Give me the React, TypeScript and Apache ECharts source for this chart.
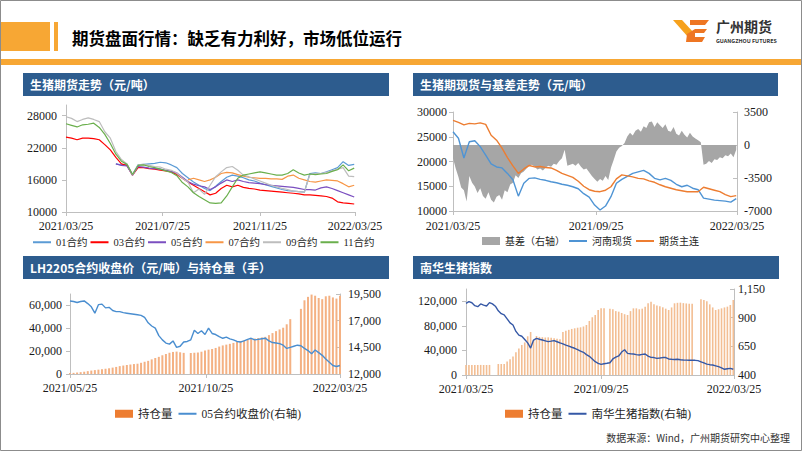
import React, { useEffect, useRef } from 'react';
import * as echarts from 'echarts';

// ---------------- Chart 1: 生猪期货走势 ----------------
const c1Start = '2021/03/25';
const c1Ticks = ['2021/03/25', '2021/07/25', '2021/11/25', '2022/03/25'];
const c1YTicks = [10000, 16000, 22000, 28000];
const c1Step = 7;
const c1Names = ['01合约', '03合约', '05合约', '07合约', '09合约', '11合约'];
const s01 = [null, null, null, null, null, null, null, null, null,
  19000, 18800, 18900, 17000, 18800, 18900, 19000, 19100, 19300, 19200, 18800, 18300, 17200, 16400, 15600, 15000, 14400, 14000, 14800, 15700, 16500, 16900, 16700, 16400, 16000, 15800, 15400, 15100, 14800, 14500, 14200, 14000, 13900, 13800, 13700, 17200, 17300, 17200, 17500, 17900, 18300, 19400, 18700, 18900];
const s03 = [24000, 23800, 23500, 23800, 23800, 23700, 23500, 22600, 21600, 20200, 19000, 18700, 16900, 18300, 18300, 18100, 18000, 17800, 17700, 17500, 17000, 16300, 15600, 15000, 14400, 13800, 13200, 13500, 14400, 15000, 14700, 15000, 14600, 14400, 14300, 14100, 14000, 13900, 13800, 13700, 13600, 13500, 13400, 13200, 13200, 13100, 13000, 12900, 12600, 11900, 11700, 11600, 11500];
const s05 = [null, null, null, null, null, null, null, null, null,
  19000, 18700, 18600, 16900, 18500, 18400, 18200, 18100, 18000, 17800, 17600, 17300, 16500, 15700, 15200, 14900, 14700, 14200, 14700, 15400, 16000, 15700, 16000, 15700, 15500, 15400, 15300, 15100, 15000, 14900, 14800, 14700, 14600, 14400, 14200, 14200, 14100, 14500, 14700, 14400, 14000, 13600, 13200, 12800];
const s07 = [null, null, null, null, null, null, null, null, null, null, null, null, null, null, null, null, null, null, null, null, null, null,
  16000, 16300, 16000, 15700, 16000, 16500, 17200, 17400, 17300, 17000, 16700, 16500, 16400, 16300, 16300, 16200, 16200, 16100, 16700, 16900, 16300, 16000, 15700, 15600, 15800, 16000, 15900, 15800, 15300, 14700, 15000];
const s09 = [27800, 27500, 26900, 27300, 27600, 27300, 26900, 25000, 23800, 21300, 19800, 19000, 16900, 18800, 18900, 18700, 18500, 18400, 18000, 17800, 17300, 16300, 15600, 13600, 14300, 13300, 15000, 16600, 17500, 18300, 18500, 17800, 16900, 16600, 16200, 15800, 15400, 15000, 14700, 14400, 14200, 13900, 13800, 13700, 17000, 17200, 17200, 17400, 17700, 18000, 18300, 16700, 16600];
const s11 = [26500, 26200, 25900, 26300, 26400, 26600, 25800, 24500, 22800, 20800, 19500, 18900, 17000, 18700, 18800, 18500, 18300, 18000, 17700, 17400, 16800, 15500, 14700, 13600, 12900, 12300, 11700, 11600, 11700, 13000, 14700, 16300, 16900, 17100, 17300, 17500, 17300, 17100, 16900, 16900, 17200, 17900, 17300, 16900, 17100, 17000, 17100, 17200, 17600, 17900, 18800, 17700, 18200];
const c1Colors = ['#5B9BD5', '#FF0000', '#7B4FC0', '#F79646', '#BDBDBD', '#6AAF4C'];

// ---------------- Chart 2: 生猪期现货与基差走势 ----------------
const c2Start = '2021/03/25';
const c2Ticks = ['2021/03/25', '2021/09/25', '2022/03/25'];
const c2YLeft = [10000, 15000, 20000, 25000, 30000];
const c2YRight = [-7000, -3500, 0, 3500];
const c2Step = 7;
const c2BasisStep = 3.5;
const c2Names = ['基差（右轴）', '河南现货', '期货主连'];
const basis = [-1400, -2500, -3400, -4500, -4800, -6000, -3300, -4000, -4400, -5100,
  -4600, -5400, -5700, -5000, -5800, -6100, -5500, -5300, -5800, -4800,
  -5000, -4200, -4000, -3200, -3500, -3000, -2800, -2500, -2200, -2100,
  -2300, -2600, -2500, -2700, -2400, -2200, -2300, -2000, -2100, -1700,
  -1400, -500, -2200, -2100, -2000, -2200, -1900, -2300, -2600, -2500,
  -2900, -3300, -3600, -3900, -3600, -3800, -3300, -3700, -2400, -1600,
  -700, -300, -100, 200, 900, 1300, 1000, 1500, 1700, 1400,
  2000, 1800, 2400, 2500, 1900, 2400, 2100, 1800, 2200, 1500,
  1400, 1900, 1200, 1000, 1500, 1100, 800, 1300, 900, 700,
  500, 300, -2100, -2000, -1700, -1900, -1500, -1600, -1300, -1400,
  -1100, -1200, -900, -1300, -500];
const spot = [26000, 24700, 20700, 24000, 24200, 23000, 21300, 19500, 18900, 18700, 17600, 16300, 13000, 15600, 16600, 16700, 16400, 16200, 15900, 15700, 15400, 15200, 14900, 14500, 13500, 12800, 11200, 10200, 11000, 12900, 15600, 16400, 17000, 17600, 17900, 18200, 17600, 16600, 16300, 16600, 16200, 15400, 14900, 15200, 14600, 14300, 12600, 12400, 12200, 12100, 12000, 11800, 12500];
const futures = [28300, 27900, 27400, 27700, 27600, 27800, 27500, 25300, 24300, 22700, 20800, 19100, 17600, 18500, 19200, 18900, 19000, 18800, 18700, 18200, 17600, 17200, 16800, 16000, 15000, 14300, 14000, 13900, 14200, 14900, 16500, 17300, 17100, 16900, 16600, 16500, 16100, 15800, 15300, 14900, 14600, 14300, 14100, 13900, 13900, 13900, 14800, 14500, 14200, 13900, 13300, 12900, 13100];

// ---------------- Chart 3: LH2205 ----------------
const c3Start = '2021/05/25';
const c3Ticks = ['2021/05/25', '2021/10/25', '2022/03/25'];
const c3YLeft = [0, 20000, 40000, 60000];
const c3YRight = [12000, 14500, 17000, 19500];
const c3Step = 4;
const c3Names = ['持仓量', '05合约收盘价(右轴)'];
const oi3 = [800, 1000, 1300, 1600, 2000, 2500, 3000, 3400, 3800, 4200, 4600, 5000, 5600, 6200, 6900, 7400, 7900, 8300, 8700, 9000, 9800, 10700, 11500, 12800, 14000, 15000, 16400, 17500, 18600, 19300, 19600, 19000, 18500, null, 18400, 18600, 18800, 19500, 20500, 21300, 21900, 22800, 24000, 25000, 25700, 26400, 27200, 28000, 28600, 29500, 30100, 30600, 31000, 31500, 32000, 32500, 34000, 35800, 37500, 39000, 40500, 43500, 48000, null, null, 57000, 64500, 67500, 69500, 68500, 66500, 65500, 68000, 68500, 67000, 66000, 68500];
const price3 = [18850, 18800, 18700, 18800, 18850, 18600, 18300, 17700, 18500, 18550, 18200, 18250, 17950, 17850, 17850, 17750, 17700, 17650, 17600, 17550, 17500, 17300, 16800, 16500, 16300, 15600, 15200, 14900, 14800, 15100, 14500, 14600, 15000, 15050, 15200, 16100, 15800, 16050, 15700, 16300, 15800, 15700, 15500, 15350, 15450, 15300, 15200, 15050, 15000, 15100, 15250, 15350, 15200, 15250, 15300, 15350, 15100, 14950, 14900, 14850, 14700, 14400, 14500, 14600, 14700, 14650, 14400, 14200, 13900, 14250, 14000, 13750, 13400, 13100, 12800, 12700, 12800];

// ---------------- Chart 4: 南华生猪指数 ----------------
const c4Start = '2021/03/25';
const c4Ticks = ['2021/03/25', '2021/09/25', '2022/03/25'];
const c4YLeft = [0, 40000, 80000, 120000];
const c4YRight = [400, 650, 900, 1150];
const c4Step = 4;
const c4Names = ['持仓量', '南华生猪指数(右轴)'];
const oi4 = [16300, 16300, 16400, 16300, 16300, 16400, 16300, 16300, 16400, null, null, 17900, 17900, 18000, 22000, 25500, 30000, 37000, 43000, 49000, 53000, 63000, 70000, 57000, 63500, 62000, 61500, 61000, 61300, 60500, 59700, 59000, 58100, 70000, 72000, 73500, 75000, 76000, 77000, 77600, 79000, 81400, 88000, 94000, 97700, 105800, 108500, 108500, null, 108000, 107000, 104000, 103100, 101000, 99000, 97700, 104000, 108500, 108500, 107000, 108000, 111250, 117000, 119400, 115000, 113000, 112000, 110200, 108000, 105800, 110000, 116700, 117500, 117800, 117000, 116500, 116000, 116000, null, null, 123200, 122100, 120000, 115000, 110000, 105800, 107000, 108500, 110000, 111250, 114000, 122100];
const index4 = [1025, 1040, 1030, 1005, 996, 1020, 1010, 1002, 1031, 1020, 1000, 960, 935, 925, 890, 855, 836, 780, 748, 738, 710, 680, 635, 705, 720, 712, 705, 698, 691, 695, 700, 690, 680, 672, 660, 652, 642, 633, 622, 608, 598, 578, 563, 540, 516, 502, 493, 498, 502, 507, 540, 555, 566, 600, 620, 589, 585, 583, 578, 574, 580, 583, 565, 554, 552, 545, 548, 552, 552, 540, 537, 535, 537, 533, 531, 530, 528, 530, 528, 525, 515, 505, 495, 490, 487, 480, 473, 462, 450, 455, 458, 450];

// ---------------- Texts ----------------
const pageTitle = '期货盘面行情：缺乏有力利好，市场低位运行';
const panelTitles = ['生猪期货走势（元/吨）', '生猪期现货与基差走势（元/吨）', 'LH2205合约收盘价（元/吨）与持仓量（手）', '南华生猪指数'];
const footer = '数据来源：Wind，广州期货研究中心整理';
const logoCn = '广州期货';
const logoEn = 'GUANGZHOU FUTURES';

// ---------------- helpers ----------------
const AXIS = '#BFBFBF';
const NUM_FONT = '"Liberation Serif", "Times New Roman", serif';
const CJK = '"Noto Sans CJK SC", "Noto Sans", sans-serif';
const LEG_FONT = '"Liberation Serif", "Noto Sans CJK SC", serif';
const ORANGE = '#F7A734';
const HEAD_BLUE = '#2D5C8E';

const toTime = (s: string) => Date.parse(s.replace(/\//g, '-') + 'T00:00:00Z');
const dayOf = (s: string, start: string) => Math.round((toTime(s) - toTime(start)) / 86400000);
const pairs = (vals: (number | null)[], step: number) => vals.map((v, i) => [i * step, v == null ? '-' : v]);

function xAxisCfg(gridIndex: number, start: string, ticks: string[], margin: number) {
  const vals = ticks.map((t) => dayOf(t, start));
  return {
    type: 'value', gridIndex, min: 0, max: vals[vals.length - 1],
    splitLine: { show: false },
    axisLine: { show: true, onZero: false, lineStyle: { color: AXIS, width: 1 } },
    axisTick: { show: true, customValues: vals, length: 4, lineStyle: { color: AXIS } },
    axisLabel: {
      customValues: vals, margin, color: '#1a1a1a', fontSize: 12, fontFamily: NUM_FONT,
      formatter: (v: number) => { const k = vals.indexOf(Math.round(v)); return k >= 0 ? ticks[k] : ''; },
    },
  };
}

function yAxisCfg(gridIndex: number, min: number, max: number, ticks: number[], position: 'left' | 'right', margin: number, comma: boolean) {
  return {
    type: 'value', gridIndex, min, max, position,
    splitLine: { show: false },
    axisLine: { show: true, onZero: false, lineStyle: { color: AXIS, width: 1 } },
    axisTick: { show: true, customValues: ticks, length: 4, inside: position === 'right', lineStyle: { color: AXIS } },
    axisLabel: {
      customValues: ticks, margin, color: '#1a1a1a', fontSize: 12, fontFamily: NUM_FONT,
      formatter: (v: number) => (comma ? Number(v).toLocaleString('en-US') : String(v)),
    },
  };
}

function lineSeries(name: string, xi: number, yi: number, data: any[], color: string, width: number) {
  return {
    type: 'line', name, xAxisIndex: xi, yAxisIndex: yi, data, symbol: 'none', silent: true,
    lineStyle: { color, width }, itemStyle: { color },
  };
}

function headerBar(x: number, y: number, w: number, text: string) {
  return [
    { type: 'rect', shape: { x, y, width: w, height: 23 }, style: { fill: HEAD_BLUE }, silent: true },
    {
      type: 'text', x: x + 7, y: y + 11.5, silent: true,
      style: { text, fill: '#ffffff', font: `bold 12px ${CJK}`, textAlign: 'left', textVerticalAlign: 'middle', align: 'left', verticalAlign: 'middle' },
    },
  ];
}

function buildOption() {
  const c1Data = [s01, s03, s05, s07, s09, s11];
  const series: any[] = [];
  c1Names.forEach((n, k) => series.push(lineSeries(n, 0, 0, pairs(c1Data[k], c1Step), c1Colors[k], 1.2)));

  series.push({
    type: 'line', name: c2Names[0], xAxisIndex: 1, yAxisIndex: 2, data: pairs(basis, c2BasisStep), symbol: 'none', silent: true,
    lineStyle: { width: 0, color: '#A6A6A6' }, itemStyle: { color: '#A6A6A6' },
    areaStyle: { color: '#A6A6A6', opacity: 1, origin: 'auto' },
  });
  series.push(lineSeries(c2Names[1], 1, 1, pairs(spot, c2Step), '#4F94D4', 1.4));
  series.push(lineSeries(c2Names[2], 1, 1, pairs(futures, c2Step), '#ED7D31', 1.4));

  series.push({
    type: 'bar', name: c3Names[0], xAxisIndex: 2, yAxisIndex: 3, data: pairs(oi3, c3Step), barWidth: 2, silent: true,
    itemStyle: { color: '#F4B183' },
  });
  series.push(lineSeries(c3Names[1], 2, 4, pairs(price3, c3Step), '#4A8ED0', 1.4));

  series.push({
    type: 'bar', name: c4Names[0], xAxisIndex: 3, yAxisIndex: 5, data: pairs(oi4, c4Step), barWidth: 1.6, silent: true,
    itemStyle: { color: '#F3BE93' },
  });
  series.push(lineSeries(c4Names[1], 3, 6, pairs(index4, c4Step), '#3558A6', 1.4));

  const legendBase = {
    selectedMode: false, orient: 'horizontal', itemWidth: 18, itemHeight: 8, padding: 0,
    itemStyle: { opacity: 0 }, lineStyle: { opacity: 1 },
  };

  const graphic: any[] = [
    { type: 'rect', shape: { x: 0, y: 22, width: 50, height: 29 }, style: { fill: ORANGE }, silent: true },
    { type: 'rect', shape: { x: 54, y: 22, width: 4, height: 29 }, style: { fill: ORANGE }, silent: true },
    { type: 'rect', shape: { x: 0, y: 59, width: 802, height: 6 }, style: { fill: ORANGE }, silent: true },
    {
      type: 'text', x: 72, y: 38, silent: true,
      style: { text: pageTitle, fill: '#000000', font: `bold 16.5px ${CJK}`, textAlign: 'left', textVerticalAlign: 'middle', align: 'left', verticalAlign: 'middle' },
    },
    { type: 'polygon', shape: { points: [[673, 20], [682, 20], [694, 33], [688, 37]] }, style: { fill: '#F6A11C' }, silent: true },
    { type: 'polygon', shape: { points: [[687, 34], [695, 29], [695, 42], [686, 42]] }, style: { fill: '#EE7623' }, silent: true },
    { type: 'polygon', shape: { points: [[690, 20], [709, 20], [705, 25], [690, 25]] }, style: { fill: '#EE7623' }, silent: true },
    { type: 'polygon', shape: { points: [[695, 29], [707, 29], [704, 33], [695, 33]] }, style: { fill: '#EE7623' }, silent: true },
    { type: 'polygon', shape: { points: [[695, 37], [705, 37], [702, 42], [695, 42]] }, style: { fill: '#EE7623' }, silent: true },
    {
      type: 'text', x: 716, y: 26, silent: true,
      style: { text: logoCn, fill: '#333333', font: `bold 14px ${CJK}`, textAlign: 'left', textVerticalAlign: 'middle', align: 'left', verticalAlign: 'middle' },
    },
    {
      type: 'text', x: 716, y: 41, silent: true,
      style: { text: logoEn, fill: '#333333', font: `bold 5.4px ${CJK}`, textAlign: 'left', textVerticalAlign: 'middle', align: 'left', verticalAlign: 'middle' },
    },
    ...headerBar(23, 73, 366, panelTitles[0]),
    ...headerBar(413, 73, 365, panelTitles[1]),
    ...headerBar(23, 256, 366, panelTitles[2]),
    ...headerBar(413, 256, 366, panelTitles[3]),
    {
      type: 'text', x: 790, y: 437, silent: true,
      style: { text: footer, fill: '#333333', font: `10px ${CJK}`, textAlign: 'right', textVerticalAlign: 'middle', align: 'right', verticalAlign: 'middle' },
    },
    { type: 'rect', shape: { x: 0.5, y: 0.5, width: 801, height: 450 }, style: { fill: 'none', stroke: '#8C8C8C', lineWidth: 1 }, silent: true },
  ];

  return {
    animation: false,
    backgroundColor: '#ffffff',
    grid: [
      { left: 66, top: 105, width: 289, height: 107, containLabel: false },
      { left: 453, top: 112, width: 284, height: 99, containLabel: false },
      { left: 70, top: 294, width: 270, height: 80, containLabel: false },
      { left: 466, top: 289, width: 268, height: 86, containLabel: false },
    ],
    xAxis: [
      xAxisCfg(0, c1Start, c1Ticks, 8),
      xAxisCfg(1, c2Start, c2Ticks, 9),
      xAxisCfg(2, c3Start, c3Ticks, 8),
      xAxisCfg(3, c4Start, c4Ticks, 8),
    ],
    yAxis: [
      yAxisCfg(0, 10000, 30000, c1YTicks, 'left', 9, false),
      yAxisCfg(1, 10000, 30000, c2YLeft, 'left', 6, false),
      yAxisCfg(1, -7000, 3500, c2YRight, 'right', 7, false),
      yAxisCfg(2, 0, 70000, c3YLeft, 'left', 8, true),
      yAxisCfg(2, 12000, 19500, c3YRight, 'right', 8, true),
      yAxisCfg(3, 0, 140000, c4YLeft, 'left', 9, true),
      yAxisCfg(3, 400, 1150, c4YRight, 'right', 4, true),
    ],
    legend: [
      {
        ...legendBase, left: 32, top: 237, itemGap: 2,
        data: c1Names,
        textStyle: { fontSize: 10.5, fontFamily: LEG_FONT, color: '#262626' },
      },
      {
        ...legendBase, left: 482, top: 236, itemGap: 3,
        data: [{ name: c2Names[0], icon: 'rect', itemStyle: { opacity: 1, color: '#A6A6A6' } }, c2Names[1], c2Names[2]],
        textStyle: { fontSize: 10, fontFamily: LEG_FONT, color: '#262626' },
      },
      {
        ...legendBase, left: 115, top: 408, itemGap: 5,
        data: [{ name: c3Names[0], icon: 'rect', itemStyle: { opacity: 1, color: '#ED7D31' } }, c3Names[1]],
        textStyle: { fontSize: 11.5, fontFamily: LEG_FONT, color: '#262626' },
      },
      {
        ...legendBase, left: 505, top: 408, itemGap: 5,
        data: [{ name: c4Names[0], icon: 'rect', itemStyle: { opacity: 1, color: '#ED7D31' } }, c4Names[1]],
        textStyle: { fontSize: 11.5, fontFamily: LEG_FONT, color: '#262626' },
      },
    ],
    series,
    graphic,
  };
}

export default function App() {
  const ref = useRef<HTMLDivElement>(null);
  useEffect(() => {
    if (!ref.current) return;
    const chart = echarts.init(ref.current, undefined, { renderer: 'svg' });
    chart.setOption(buildOption() as any);
    return () => chart.dispose();
  }, []);
  return (
    <div
      ref={ref}
      style={{ position: 'fixed', left: 0, top: 0, width: 802, height: 451, background: '#ffffff' }}
    />
  );
}
